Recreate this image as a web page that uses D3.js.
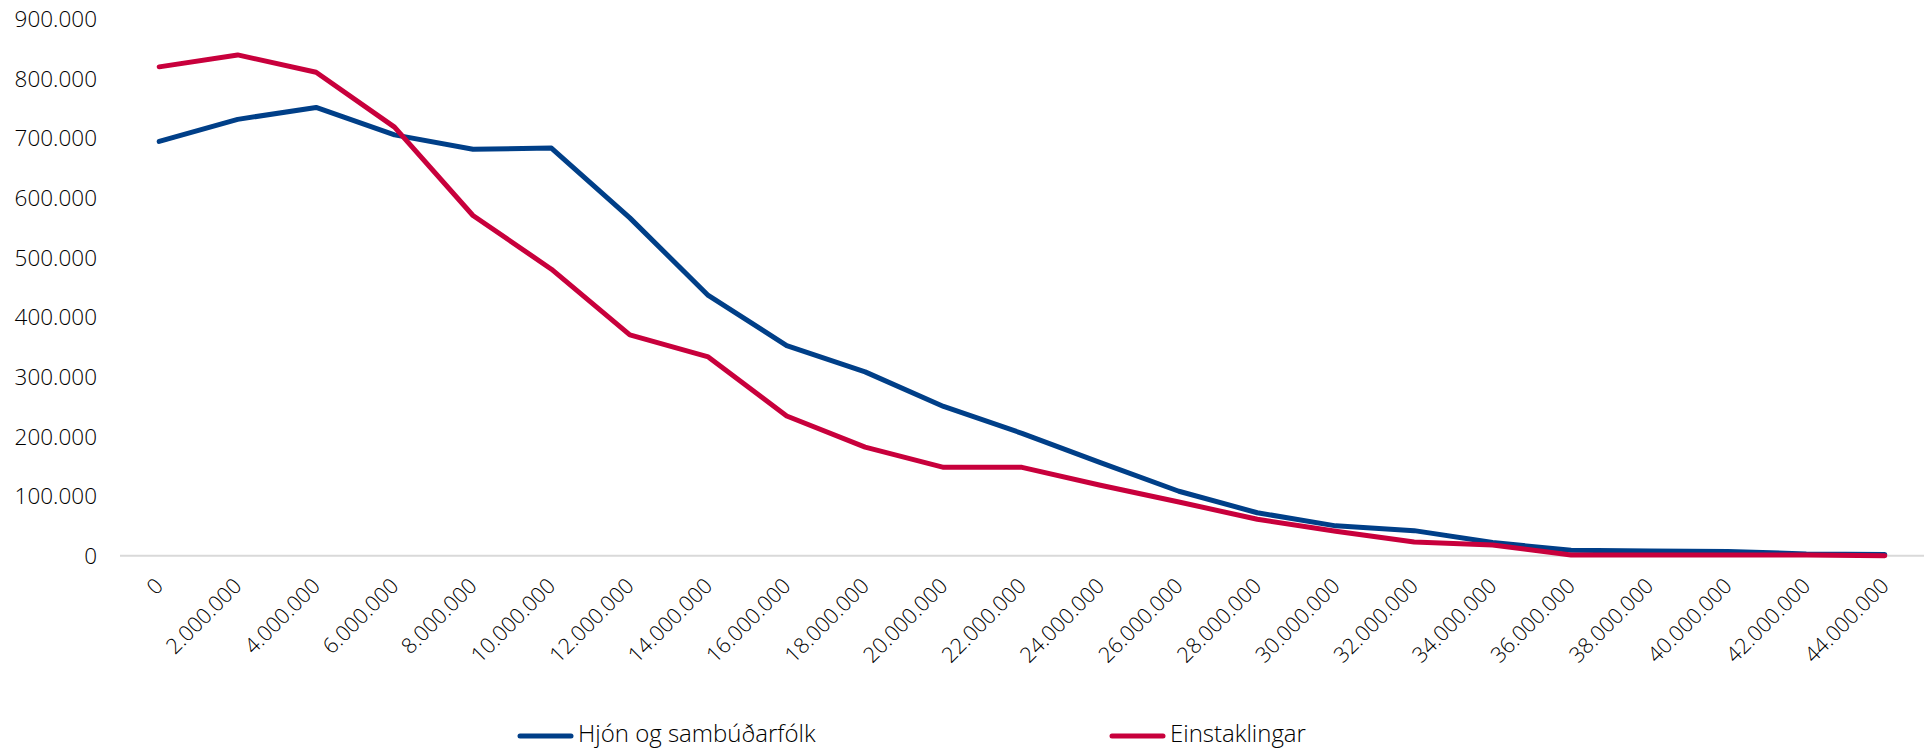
<!DOCTYPE html>
<html>
<head>
<meta charset="utf-8">
<script src="https://cdn.jsdelivr.net/npm/d3@7"></script>
<style>
  html, body { margin: 0; padding: 0; background: #fff; }
  svg { display: block; }
  text { font-family: "Open Sans", "Noto Sans", sans-serif; font-weight: 300; fill: #000; }
</style>
</head>
<body>
<svg id="chart" width="1931" height="750"></svg>
<script>
// Categories (income brackets)
const categories = ["0","2.000.000","4.000.000","6.000.000","8.000.000","10.000.000","12.000.000","14.000.000","16.000.000","18.000.000","20.000.000","22.000.000","24.000.000","26.000.000","28.000.000","30.000.000","32.000.000","34.000.000","36.000.000","38.000.000","40.000.000","42.000.000","44.000.000"];
// Series values
const hjon = [694000, 731000, 751000, 705000, 681000, 683000, 566000, 436000, 352000, 308000, 250000, 205000, 156000, 108000, 72000, 50000, 42000, 22000, 9000, 8000, 7000, 3000, 2000];
const einstaklingar = [819000, 839000, 810000, 718000, 570000, 480000, 370000, 333000, 234000, 182000, 148000, 148000, 118000, 90000, 61000, 41000, 23000, 18000, 1000, 1000, 1000, 1000, 0];
const seriesNames = ["Hjón og sambúðarfólk", "Einstaklingar"];
const seriesColors = ["#003f88", "#c8003c"];
const yTicks = [0, 100000, 200000, 300000, 400000, 500000, 600000, 700000, 800000, 900000];

const svg = d3.select("#chart");
const fmt = v => d3.format(",")(v).replace(/,/g, ".");

const x = d3.scaleBand().domain(categories).range([120, 1924]).padding(0);
const y = d3.scaleLinear().domain([0, 900000]).range([555.7, 18.5]);

// Y axis labels
const yAxis = d3.axisLeft(y).tickValues(yTicks).tickFormat(fmt).tickSize(0).tickPadding(0);
const gy = svg.append("g").attr("transform", "translate(97,0)").call(yAxis);
gy.select(".domain").remove();
gy.selectAll("text").attr("font-size", 22.5).attr("dy", "0.35em")
  .style("font-family", '"Open Sans", "Noto Sans", sans-serif').attr("fill", "#000");

// X axis baseline
svg.append("line")
  .attr("x1", 120).attr("x2", 1924)
  .attr("y1", y(0)).attr("y2", y(0))
  .attr("stroke", "#d9d9d9").attr("stroke-width", 2);

// X axis labels via axis
const xAxis = d3.axisBottom(x).tickSize(0).tickPadding(0);
const gx = svg.append("g").attr("transform", "translate(0,582)").call(xAxis);
gx.select(".domain").remove();
gx.selectAll(".tick text")
  .attr("font-size", 21.5)
  .style("font-family", '"Open Sans", "Noto Sans", sans-serif')
  .attr("fill", "#000")
  .attr("text-anchor", "end")
  .attr("x", 0).attr("y", 0).attr("dy", "0.35em")
  .attr("transform", "rotate(-45)");

// Lines
const line = d3.line()
  .x((d, i) => x(categories[i]) + x.bandwidth() / 2)
  .y(d => y(d));

[hjon, einstaklingar].forEach((vals, k) => {
  svg.append("path")
    .datum(vals)
    .attr("d", line)
    .attr("fill", "none")
    .attr("stroke", seriesColors[k])
    .attr("stroke-width", 5)
    .attr("stroke-linejoin", "round")
    .attr("stroke-linecap", "round");
});

// Legend
const legendX = [520, 1112];
seriesNames.forEach((name, k) => {
  const g = svg.append("g").attr("transform", `translate(${legendX[k]},736)`);
  g.append("line").attr("x1", 0).attr("x2", 51).attr("y1", 0).attr("y2", 0)
    .attr("stroke", seriesColors[k]).attr("stroke-width", 5).attr("stroke-linecap", "round");
  g.append("text").attr("x", 58).attr("y", 6).attr("font-size", 24).text(name);
});
</script>
</body>
</html>
